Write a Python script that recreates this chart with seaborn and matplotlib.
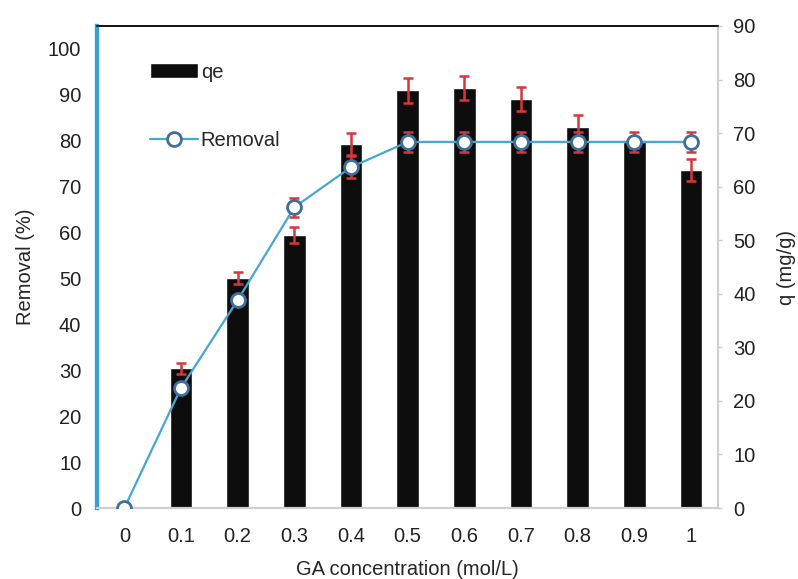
import numpy as np
import pandas as pd
import matplotlib
matplotlib.use('Agg')
import matplotlib.pyplot as plt
import seaborn as sns

sns.set_style('white')
plt.rcParams['font.family'] = ['Liberation Sans', 'DejaVu Sans']

conc = ['0', '0.1', '0.2', '0.3', '0.4', '0.5', '0.6', '0.7', '0.8', '0.9', '1']
qe = [0, 26.1, 42.9, 51.0, 68.0, 78.0, 78.4, 76.4, 71.1, 68.3, 63.1]
qe_err = [0, 1.0, 1.1, 1.5, 2.1, 2.3, 2.3, 2.2, 2.2, 1.0, 2.0]
removal = [0, 26.1, 45.2, 65.4, 74.1, 79.6, 79.6, 79.6, 79.6, 79.6, 79.6]
removal_err = [0, 0.5, 0.8, 2.1, 2.4, 2.2, 2.2, 2.2, 2.2, 2.2, 2.2]

df = pd.DataFrame({'conc': conc, 'qe': qe, 'removal': removal})

line_col = '#45a8d2'
err_col = '#d9353b'
fs = 14.5

fig = plt.figure(figsize=(7.98, 5.79), dpi=100)
ax = fig.add_axes([0.121, 0.1226, 0.779, 0.8325])
ax2 = ax.twinx()

# bars (qe) on the right axis
sns.barplot(data=df, x='conc', y='qe', order=conc, color='#0d0d0d', width=0.4,
            saturation=1, ax=ax2)
ax2.errorbar(np.arange(len(conc))[1:], qe[1:], yerr=qe_err[1:], fmt='none',
             ecolor=err_col, elinewidth=1.8, capsize=3.5, capthick=1.8, zorder=5)

# removal line on the left axis
ax.errorbar(np.arange(len(conc))[1:], removal[1:], yerr=removal_err[1:], fmt='none',
            ecolor=err_col, elinewidth=1.8, capsize=3.5, capthick=1.8, zorder=3)
sns.pointplot(data=df, x='conc', y='removal', order=conc, color=line_col, markers='o',
              markersize=10, linewidth=1.6, ax=ax, errorbar=None)
for ln in ax.lines:
    if ln.get_marker() == 'o':
        ln.set_markerfacecolor('white')
        ln.set_markeredgecolor('#3f6f9a')
        ln.set_markeredgewidth(2)
        ln.set_zorder(4)

ax.set_zorder(ax2.get_zorder() + 1)
ax.patch.set_visible(False)

ax.set_xlim(-0.49, 10.48)
ax.set_ylim(0, 104.8)
ax2.set_ylim(0, 90)
ax.set_yticks(np.arange(0, 101, 10))
ax2.set_yticks(np.arange(0, 91, 10))

ax.set_xlabel('GA concentration (mol/L)', fontsize=fs, labelpad=10)
ax.set_ylabel('Removal (%)', fontsize=fs, labelpad=9)
ax2.set_ylabel('q (mg/g)', fontsize=fs, labelpad=15)
ax2.set_xlabel('')

ax.tick_params(axis='y', length=0, pad=11, labelsize=fs, colors='#222222')
ax.tick_params(axis='x', length=0, pad=14, labelsize=fs, colors='#222222')
ax2.tick_params(axis='y', length=3, width=1, color='#cccccc', pad=8, labelsize=fs,
                labelcolor='#222222')

for a in (ax, ax2):
    a.spines['left'].set_color('#3a9fd6')
    a.spines['left'].set_linewidth(3)
    a.spines['right'].set_color('#cfcfcf')
    a.spines['right'].set_linewidth(1.5)
    a.spines['bottom'].set_color('#cfcfcf')
    a.spines['bottom'].set_linewidth(1.5)
    a.spines['top'].set_color('#111111')
    a.spines['top'].set_linewidth(1.2)

handles = [ax2.containers[0], [l for l in ax.lines if l.get_marker() == 'o'][0]]
leg = ax.legend(handles, ['qe', 'Removal'], loc='upper left', bbox_to_anchor=(0.069, 0.945),
                frameon=False, fontsize=fs, handlelength=2.4, handleheight=0.75,
                labelspacing=2.45, handletextpad=0.15, borderpad=0)

fig.savefig('out.png', dpi=100)
